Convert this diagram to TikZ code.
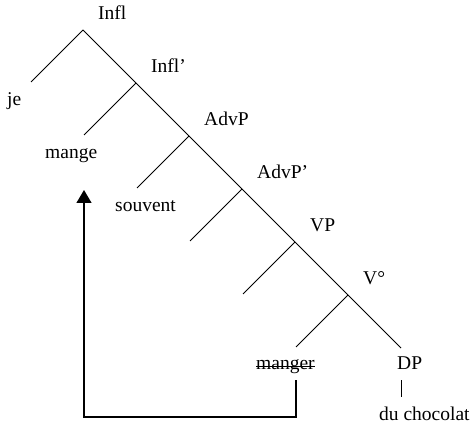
\documentclass[tikz,border=0pt]{standalone}
\usepackage{fontspec}
\setmainfont{Liberation Serif}
\usetikzlibrary{arrows.meta}
\tikzstyle{syntaxTree} = [x = 1pt, y = -1pt]
\tikzstyle{branchLine} = [color=black, line width=1pt]
\tikzstyle{strikeLine} = [color=black, line width=0.9pt]
\tikzstyle{treeText} = [inner sep=0pt, font=\fontsize{19.5}{22}\selectfont]
\tikzstyle{headLabel} = [treeText, anchor=base west]
\tikzstyle{leafLabel} = [treeText, anchor=base west]
\tikzstyle{moveArrow} = [color=black, line width=1.2pt, -{Triangle[width=15pt,length=13pt]}]
\newcommand{\stepSize}{53}
\newcommand{\branchReach}{52}

\begin{document}
\begin{tikzpicture}[syntaxTree]
        \useasboundingbox (0,0) rectangle (471,427);
        % spine of the tree
        \foreach \level/\name in {0/infl,1/inflBar,2/advp,3/advpBar,4/vp,5/vZero,6/dpEnd} {
          \coordinate (\name) at (83 + \stepSize * \level, 30 + \stepSize * \level);
        }
        \foreach \level/\name in {0/infl,1/inflBar,2/advp,3/advpBar,4/vp,5/vZero} {
          \coordinate (\name Left) at (83 + \stepSize * \level - \branchReach, 30 + \stepSize * \level + \branchReach);
          \draw [branchLine] (\name) -- (\name Left);
        }
        \draw [branchLine] (infl) -- (dpEnd);

        % labels of the heads
        \foreach \name/\word in {infl/Infl,inflBar/Infl',advp/AdvP,advpBar/AdvP',vp/VP,vZero/V°} {
          \node [headLabel] (\name Label) at ([shift={(15,-10)}]\name) {\word};
        }

        % leaves
        \node [leafLabel] (jeLabel) at (7,106) {je};
        \node [leafLabel] (mangeLabel) at (45,159) {mange};
        \node [leafLabel] (souventLabel) at (115,212) {souvent};
        \node [leafLabel] (mangerLabel) at (256,370) {manger};
        \draw [strikeLine] ([yshift=4pt]mangerLabel.base west) -- ([yshift=4pt]mangerLabel.base east);
        \node [leafLabel] (dpLabel) at (397,370) {DP};
        \node [leafLabel] (chocolatLabel) at (379,420) {du chocolat};
        \draw [branchLine, shorten <= 10pt, shorten >= 9pt] (dpLabel.south -| dpEnd) -- (chocolatLabel.north -| dpEnd);

        % movement of the verb
        \coordinate (moveStart) at (296,380);
        \coordinate (moveCorner) at (84,417);
        \coordinate (moveEnd) at (84,190);
        \draw [moveArrow] (moveStart) |- (moveCorner) -- (moveEnd);
      \end{tikzpicture}
\end{document}
